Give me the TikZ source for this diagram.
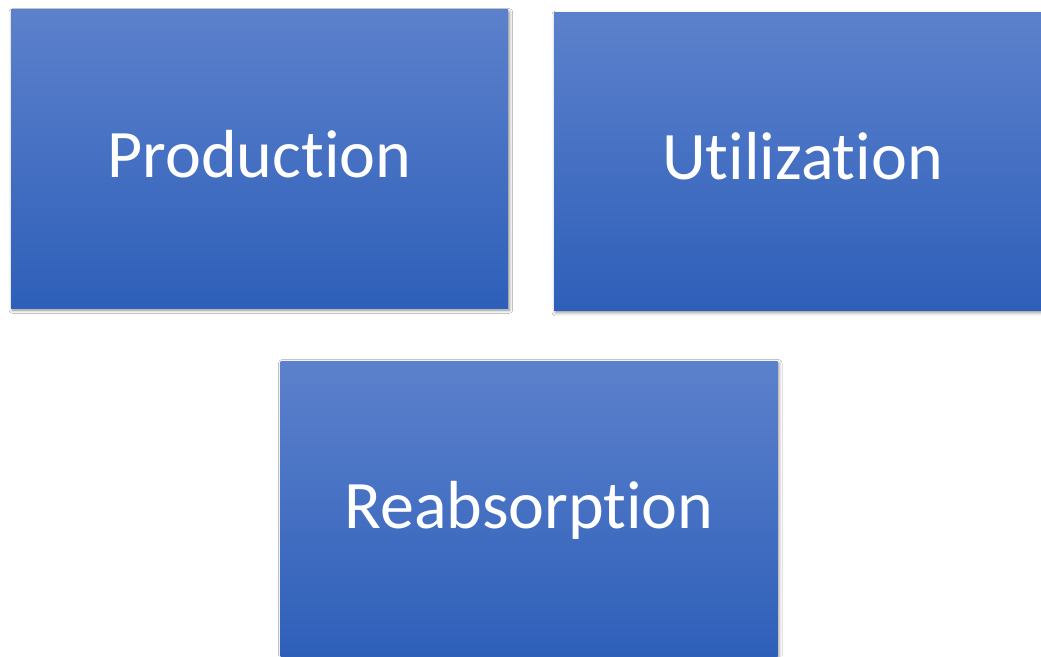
\documentclass[tikz,border=0pt]{standalone}
\usepackage{fontspec}
\setmainfont{Carlito}[Ligatures={NoCommon}]
\usepackage{tikz}
\usetikzlibrary{shadows.blur}
\definecolor{boxtop}{HTML}{5C81CC}
\definecolor{boxbot}{HTML}{2E5FB9}
\tikzset{
    stagebox/.style={rectangle, inner sep=0pt,
        minimum width=372.75pt, minimum height=223.5pt,
        top color=boxtop, bottom color=boxbot, draw=none,
        blur shadow={shadow xshift=1pt, shadow yshift=-1.5pt,
            shadow blur radius=2.5pt, shadow opacity=45},
        text=white, font=\fontsize{51}{60}\selectfont,
        text height=32.6pt, text depth=5.1pt}
}
\begin{document}
\begin{tikzpicture}[x=0.75pt,y=-0.75pt]
    %Khung hình
    \useasboundingbox (0,0) rectangle (1041,656);
    \clip (0,0) rectangle (1041,656);
    \fill[white] (0,0) rectangle (1041,656);
    %Các khối
    \node[stagebox] (prod) at (259.5,159) {Production};
    \node[stagebox] (util) at (802.5,161.5) {Utilization};
    \node[stagebox] (reab) at (529,510) {Reabsorption};
\end{tikzpicture}
\end{document}
